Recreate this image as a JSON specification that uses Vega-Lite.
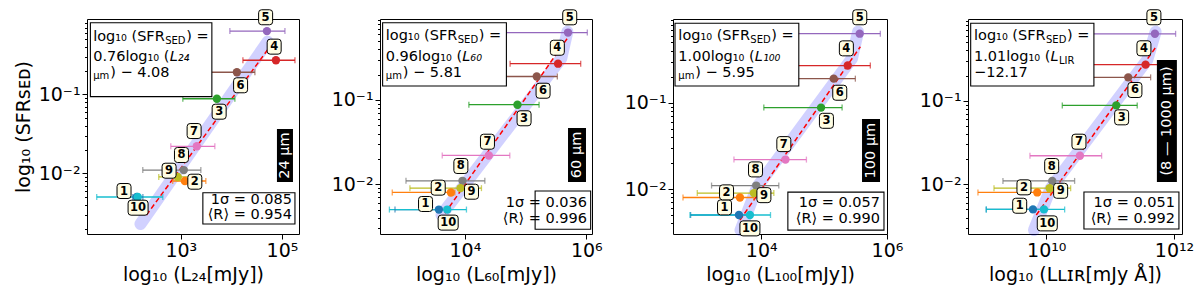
{
"$schema":"https://vega.github.io/schema/vega-lite/v6.json",
"autosize":{"type":"none"},
"padding":{"left":87,"top":19,"right":1113,"bottom":273},
"background":"white",
"config":{"font":"DejaVu Sans","view":{"stroke":"black","strokeWidth":1},
 "axis":{"grid":false,"domain":false,"tickColor":"black","labelColor":"black","titleColor":"black","labelFontSize":19,"titleFontSize":19,"titleFontWeight":"normal","labelPadding":2,"tickSize":5,"labelFont":"DejaVu Sans","titleFont":"DejaVu Sans","labelFlush":false,"labelOverlap":false,"labelBound":false},
 "axisX":{"titlePadding":5},"axisY":{"titlePadding":5},
 "text":{"font":"DejaVu Sans"}},
"datasets":{
 "one":[{"k":1}],
 "pts":[
  {"p":1,"id":1,"x":2.129,"xlo":2.05,"xhi":2.25,"y":-2.30,"tx":1.877,"ty":-2.224},
  {"p":1,"id":2,"x":3.08,"xlo":2.84,"xhi":3.495,"y":-2.097,"tx":3.277,"ty":-2.106},
  {"p":1,"id":3,"x":3.713,"xlo":3.04,"xhi":4.069,"y":-1.056,"tx":3.758,"ty":-1.22},
  {"p":1,"id":4,"x":4.881,"xlo":4.228,"xhi":5.257,"y":-0.569,"tx":4.846,"ty":-0.397},
  {"p":1,"id":5,"x":4.703,"xlo":3.97,"xhi":5.059,"y":-0.2,"tx":4.677,"ty":-0.025},
  {"p":1,"id":6,"x":4.109,"xlo":3.376,"xhi":4.465,"y":-0.721,"tx":4.182,"ty":-0.886},
  {"p":1,"id":7,"x":3.317,"xlo":2.802,"xhi":3.673,"y":-1.658,"tx":3.263,"ty":-1.465},
  {"p":1,"id":8,"x":3.059,"xlo":2.248,"xhi":3.396,"y":-1.959,"tx":3.013,"ty":-1.768},
  {"p":1,"id":9,"x":2.94,"xlo":2.564,"xhi":3.376,"y":-2.046,"tx":2.768,"ty":-1.967},
  {"p":1,"id":10,"x":2.149,"xlo":1.337,"xhi":2.644,"y":-2.30,"tx":2.155,"ty":-2.435},
  {"p":2,"id":1,"x":3.572,"xlo":2.849,"xhi":3.753,"y":-2.30,"tx":3.352,"ty":-2.234},
  {"p":2,"id":2,"x":3.77,"xlo":2.804,"xhi":3.836,"y":-2.097,"tx":3.561,"ty":-2.04},
  {"p":2,"id":3,"x":4.866,"xlo":4.066,"xhi":5.222,"y":-1.056,"tx":4.975,"ty":-1.217},
  {"p":2,"id":4,"x":5.535,"xlo":4.745,"xhi":5.908,"y":-0.569,"tx":5.523,"ty":-0.38},
  {"p":2,"id":5,"x":5.699,"xlo":4.684,"xhi":6.017,"y":-0.2,"tx":5.727,"ty":-0.019},
  {"p":2,"id":6,"x":5.184,"xlo":4.29,"xhi":5.523,"y":-0.721,"tx":5.288,"ty":-0.89},
  {"p":2,"id":7,"x":4.395,"xlo":3.627,"xhi":4.74,"y":-1.658,"tx":4.372,"ty":-1.495},
  {"p":2,"id":8,"x":3.961,"xlo":3.03,"xhi":4.329,"y":-1.959,"tx":3.934,"ty":-1.783},
  {"p":2,"id":9,"x":3.928,"xlo":3.095,"xhi":4.273,"y":-2.046,"tx":4.109,"ty":-2.088},
  {"p":2,"id":10,"x":3.709,"xlo":2.757,"xhi":4.026,"y":-2.30,"tx":3.725,"ty":-2.455},
  {"p":3,"id":1,"x":3.646,"xlo":2.878,"xhi":3.85,"y":-2.30,"tx":3.417,"ty":-2.212},
  {"p":3,"id":2,"x":3.662,"xlo":2.757,"xhi":3.884,"y":-2.097,"tx":3.449,"ty":-2.038},
  {"p":3,"id":3,"x":4.952,"xlo":4.042,"xhi":5.286,"y":-1.056,"tx":5.037,"ty":-1.209},
  {"p":3,"id":4,"x":5.376,"xlo":4.556,"xhi":5.735,"y":-0.569,"tx":5.354,"ty":-0.37},
  {"p":3,"id":5,"x":5.566,"xlo":4.4,"xhi":5.894,"y":-0.2,"tx":5.567,"ty":-0.01},
  {"p":3,"id":6,"x":5.153,"xlo":4.238,"xhi":5.497,"y":-0.721,"tx":5.249,"ty":-0.884},
  {"p":3,"id":7,"x":4.386,"xlo":3.567,"xhi":4.719,"y":-1.658,"tx":4.36,"ty":-1.479},
  {"p":3,"id":8,"x":3.921,"xlo":3.211,"xhi":4.28,"y":-1.959,"tx":3.91,"ty":-1.772},
  {"p":3,"id":9,"x":3.884,"xlo":2.984,"xhi":4.201,"y":-2.046,"tx":4.043,"ty":-2.07},
  {"p":3,"id":10,"x":3.821,"xlo":2.868,"xhi":4.148,"y":-2.30,"tx":3.821,"ty":-2.455},
  {"p":4,"id":1,"x":9.792,"xlo":9.061,"xhi":9.95,"y":-2.30,"tx":9.584,"ty":-2.256},
  {"p":4,"id":2,"x":9.859,"xlo":8.931,"xhi":10.069,"y":-2.097,"tx":9.651,"ty":-2.036},
  {"p":4,"id":3,"x":11.096,"xlo":10.251,"xhi":11.424,"y":-1.056,"tx":11.18,"ty":-1.199},
  {"p":4,"id":4,"x":11.555,"xlo":10.6,"xhi":11.9,"y":-0.569,"tx":11.529,"ty":-0.373},
  {"p":4,"id":5,"x":11.701,"xlo":10.6,"xhi":12.025,"y":-0.2,"tx":11.685,"ty":-0.002},
  {"p":4,"id":6,"x":11.283,"xlo":10.397,"xhi":11.634,"y":-0.721,"tx":11.388,"ty":-0.872},
  {"p":4,"id":7,"x":10.527,"xlo":9.745,"xhi":10.867,"y":-1.658,"tx":10.512,"ty":-1.49},
  {"p":4,"id":8,"x":10.094,"xlo":9.322,"xhi":10.444,"y":-1.959,"tx":10.085,"ty":-1.781},
  {"p":4,"id":9,"x":10.053,"xlo":9.182,"xhi":10.382,"y":-2.046,"tx":10.225,"ty":-2.077},
  {"p":4,"id":10,"x":9.964,"xlo":9.061,"xhi":10.288,"y":-2.30,"tx":10.016,"ty":-2.467}
 ],
 "band":[
  {"p":1,"x":2.202,"y":-2.642},{"p":1,"x":4.717,"y":-0.334},
  {"p":2,"x":3.615,"y":-2.364},{"p":2,"x":5.589,"y":-0.505},{"p":2,"x":5.688,"y":-0.19},
  {"p":3,"x":3.671,"y":-2.475},{"p":3,"x":3.937,"y":-1.973},{"p":3,"x":5.444,"y":-0.486},{"p":3,"x":5.54,"y":-0.177},
  {"p":4,"x":9.808,"y":-2.547},{"p":4,"x":10.069,"y":-2.048},{"p":4,"x":11.581,"y":-0.513},{"p":4,"x":11.712,"y":-0.175}
 ],
 "fit":[
  {"p":1,"x":2.321,"y":-2.528},{"p":1,"x":4.762,"y":-0.397},
  {"p":2,"x":3.671,"y":-2.344},{"p":2,"x":5.688,"y":-0.268},
  {"p":3,"x":3.662,"y":-2.359},{"p":3,"x":5.576,"y":-0.351},
  {"p":4,"x":9.844,"y":-2.367},{"p":4,"x":11.721,"y":-0.354}
 ]
},
"spacing":81,
"bounds":"flush",
"hconcat":[
{"width":212,"height":215,"layer":[
 {"data":{"name":"band"},"transform":[{"filter":"datum.p==1"}],"mark":{"type":"line","color":"#0000ff","opacity":0.18,"strokeWidth":12,"strokeCap":"round","strokeJoin":"round"},
  "encoding":{"x":{"field":"x","type":"quantitative","scale":{"domain":[1.145,5.337],"nice":false,"zero":false},"axis":{"values":[3,5],"tickCount":100,"labelOverlap":false,"labelExpr":"datum.value==3?'10³':'10⁵'","title":"log₁₀ (L₂₄[mJy])"}},
   "y":{"field":"y","type":"quantitative","scale":{"domain":[-2.768,-0.047],"nice":false,"zero":false},"axis":{"values":[-2.699,-2.523,-2.398,-2.301,-2.222,-2.155,-2.097,-2.046,-2,-1.699,-1.523,-1.398,-1.301,-1.222,-1.155,-1.097,-1.046,-1,-0.699,-0.523,-0.398,-0.301,-0.222,-0.155,-0.097],"tickCount":100,"labelOverlap":false,"labelExpr":"datum.value==-1?'10⁻¹':datum.value==-2?'10⁻²':''","labelFontSize":{"condition":{"test":"datum.value==-1||datum.value==-2","value":19},"value":0},"tickSize":{"condition":{"test":"datum.value==-1||datum.value==-2","value":5},"value":2.5},"title":"log₁₀ (SFRꜱᴇᴅ)"}}}},
 {"data":{"name":"fit"},"transform":[{"filter":"datum.p==1"}],"mark":{"type":"line","color":"red","strokeWidth":1.5,"strokeDash":[5,3]},"encoding":{"x":{"field":"x","type":"quantitative"},"y":{"field":"y","type":"quantitative"}}},
 {"data":{"name":"pts"},"transform":[{"filter":"datum.p==1"}],"mark":{"type":"rule","strokeWidth":1.3},"encoding":{"x":{"field":"xlo","type":"quantitative"},"x2":{"field":"xhi"},"y":{"field":"y","type":"quantitative"},"color":{"field":"id","type":"nominal","scale":{"domain":[1,2,3,4,5,6,7,8,9,10],"range":["#1f77b4","#ff7f0e","#2ca02c","#d62728","#9467bd","#8c564b","#e377c2","#7f7f7f","#bcbd22","#17becf"]},"legend":null}}},
 {"data":{"name":"pts"},"transform":[{"filter":"datum.p==1"}],"mark":{"type":"tick","orient":"vertical","size":6,"thickness":1.3},"encoding":{"x":{"field":"xlo","type":"quantitative"},"y":{"field":"y","type":"quantitative"},"color":{"field":"id","type":"nominal","scale":{"domain":[1,2,3,4,5,6,7,8,9,10],"range":["#1f77b4","#ff7f0e","#2ca02c","#d62728","#9467bd","#8c564b","#e377c2","#7f7f7f","#bcbd22","#17becf"]},"legend":null}}},
 {"data":{"name":"pts"},"transform":[{"filter":"datum.p==1"}],"mark":{"type":"tick","orient":"vertical","size":6,"thickness":1.3},"encoding":{"x":{"field":"xhi","type":"quantitative"},"y":{"field":"y","type":"quantitative"},"color":{"field":"id","type":"nominal","scale":{"domain":[1,2,3,4,5,6,7,8,9,10],"range":["#1f77b4","#ff7f0e","#2ca02c","#d62728","#9467bd","#8c564b","#e377c2","#7f7f7f","#bcbd22","#17becf"]},"legend":null}}},
 {"data":{"name":"pts"},"transform":[{"filter":"datum.p==1"}],"mark":{"type":"circle","size":70,"opacity":1},"encoding":{"x":{"field":"x","type":"quantitative"},"y":{"field":"y","type":"quantitative"},"color":{"field":"id","type":"nominal","scale":{"domain":[1,2,3,4,5,6,7,8,9,10],"range":["#1f77b4","#ff7f0e","#2ca02c","#d62728","#9467bd","#8c564b","#e377c2","#7f7f7f","#bcbd22","#17becf"]},"legend":null}}},
 {"data":{"name":"pts"},"transform":[{"filter":"datum.p==1&&datum.id<10"}],"mark":{"type":"point","shape":"M-0.4,-0.75L0.4,-0.75Q0.7,-0.75 0.7,-0.45L0.7,0.45Q0.7,0.75 0.4,0.75L-0.4,0.75Q-0.7,0.75 -0.7,0.45L-0.7,-0.45Q-0.7,-0.75 -0.4,-0.75Z","size":400,"filled":true,"fill":"#fffde3","stroke":"black","strokeWidth":1,"opacity":1},"encoding":{"x":{"field":"tx","type":"quantitative"},"y":{"field":"ty","type":"quantitative"}}},
 {"data":{"name":"pts"},"transform":[{"filter":"datum.p==1&&datum.id==10"}],"mark":{"type":"point","shape":"M-0.7,-0.75L0.7,-0.75Q1,-0.75 1,-0.45L1,0.45Q1,0.75 0.7,0.75L-0.7,0.75Q-1,0.75 -1,0.45L-1,-0.45Q-1,-0.75 -0.7,-0.75Z","size":400,"filled":true,"fill":"#fffde3","stroke":"black","strokeWidth":1,"opacity":1},"encoding":{"x":{"field":"tx","type":"quantitative"},"y":{"field":"ty","type":"quantitative"}}},
 {"data":{"name":"pts"},"transform":[{"filter":"datum.p==1"}],"mark":{"type":"text","fontSize":11.5,"fontWeight":"bold","color":"black","baseline":"middle","dy":0.5},"encoding":{"x":{"field":"tx","type":"quantitative"},"y":{"field":"ty","type":"quantitative"},"text":{"field":"id","type":"nominal"}}},
 {"data":{"name":"one"},"mark":{"type":"rect","fill":"white","stroke":"black","strokeWidth":1.1},"encoding":{"x":{"datum":1.212,"type":"quantitative"},"x2":{"datum":3.614},"y":{"datum":-0.094,"type":"quantitative"},"y2":{"datum":-1.03}}},
 {"data":{"name":"one"},"mark":{"type":"text","text":"log₁₀ (SFR","align":"left","baseline":"alphabetic","fontSize":14.5},"encoding":{"x":{"datum":1.267,"type":"quantitative"},"y":{"datum":-0.325,"type":"quantitative"}}},
 {"data":{"name":"one"},"mark":{"type":"text","text":"SED","align":"left","baseline":"alphabetic","fontSize":10,"dx":72,"dy":3},"encoding":{"x":{"datum":1.267,"type":"quantitative"},"y":{"datum":-0.325,"type":"quantitative"}}},
 {"data":{"name":"one"},"mark":{"type":"text","text":") =","align":"left","baseline":"alphabetic","fontSize":14.5,"dx":93},"encoding":{"x":{"datum":1.267,"type":"quantitative"},"y":{"datum":-0.325,"type":"quantitative"}}},
 {"data":{"name":"one"},"mark":{"type":"text","text":"0.76log₁₀ (","align":"left","baseline":"alphabetic","fontSize":14.5},"encoding":{"x":{"datum":1.267,"type":"quantitative"},"y":{"datum":-0.578,"type":"quantitative"}}},
 {"data":{"name":"one"},"mark":{"type":"text","text":"L₂₄","align":"left","baseline":"alphabetic","fontSize":14.5,"fontStyle":"italic","dx":76.5},"encoding":{"x":{"datum":1.267,"type":"quantitative"},"y":{"datum":-0.578,"type":"quantitative"}}},
 {"data":{"name":"one"},"mark":{"type":"text","text":"μm","align":"left","baseline":"alphabetic","fontSize":10,"dy":2},"encoding":{"x":{"datum":1.267,"type":"quantitative"},"y":{"datum":-0.785,"type":"quantitative"}}},
 {"data":{"name":"one"},"mark":{"type":"text","text":") − 4.08","align":"left","baseline":"alphabetic","fontSize":14.5,"dx":17},"encoding":{"x":{"datum":1.267,"type":"quantitative"},"y":{"datum":-0.785,"type":"quantitative"}}},
 {"data":{"name":"one"},"mark":{"type":"rect","fill":"white","stroke":"black","strokeWidth":1.1},"encoding":{"x":{"datum":3.436,"type":"quantitative"},"x2":{"datum":5.257},"y":{"datum":-2.246,"type":"quantitative"},"y2":{"datum":-2.642}}},
 {"data":{"name":"one"},"mark":{"type":"text","text":"1σ = 0.085","align":"right","baseline":"alphabetic","fontSize":14.5},"encoding":{"x":{"datum":5.198,"type":"quantitative"},"y":{"datum":-2.389,"type":"quantitative"}}},
 {"data":{"name":"one"},"mark":{"type":"text","text":"⟨R⟩ = 0.954","align":"right","baseline":"alphabetic","fontSize":14.5},"encoding":{"x":{"datum":5.198,"type":"quantitative"},"y":{"datum":-2.578,"type":"quantitative"}}},
 {"data":{"name":"one"},"mark":{"type":"rect","fill":"black"},"encoding":{"x":{"datum":4.901,"type":"quantitative"},"x2":{"datum":5.218},"y":{"datum":-1.439,"type":"quantitative"},"y2":{"datum":-2.11}}},
 {"data":{"name":"one"},"mark":{"type":"text","text":"24 μm","align":"center","baseline":"middle","fontSize":14.5,"angle":270,"color":"white"},"encoding":{"x":{"datum":5.059,"type":"quantitative"},"y":{"datum":-1.775,"type":"quantitative"}}}
]},
{"width":212,"height":215,"layer":[
 {"data":{"name":"band"},"transform":[{"filter":"datum.p==2"}],"mark":{"type":"line","color":"#0000ff","opacity":0.18,"strokeWidth":12,"strokeCap":"round","strokeJoin":"round"},
  "encoding":{"x":{"field":"x","type":"quantitative","scale":{"domain":[2.602,6.094],"nice":false,"zero":false},"axis":{"values":[4,6],"tickCount":100,"labelOverlap":false,"labelExpr":"datum.value==4?'10⁴':'10⁶'","title":"log₁₀ (L₆₀[mJy])"}},
   "y":{"field":"y","type":"quantitative","scale":{"domain":[-2.59,-0.039],"nice":false,"zero":false},"axis":{"values":[-2.523,-2.398,-2.301,-2.222,-2.155,-2.097,-2.046,-2,-1.699,-1.523,-1.398,-1.301,-1.222,-1.155,-1.097,-1.046,-1,-0.699,-0.523,-0.398,-0.301,-0.222,-0.155,-0.097,-0.046],"tickCount":100,"labelOverlap":false,"labelExpr":"datum.value==-1?'10⁻¹':datum.value==-2?'10⁻²':''","labelFontSize":{"condition":{"test":"datum.value==-1||datum.value==-2","value":19},"value":0},"tickSize":{"condition":{"test":"datum.value==-1||datum.value==-2","value":5},"value":2.5},"title":null}}}},
 {"data":{"name":"fit"},"transform":[{"filter":"datum.p==2"}],"mark":{"type":"line","color":"red","strokeWidth":1.5,"strokeDash":[5,3]},"encoding":{"x":{"field":"x","type":"quantitative"},"y":{"field":"y","type":"quantitative"}}},
 {"data":{"name":"pts"},"transform":[{"filter":"datum.p==2"}],"mark":{"type":"rule","strokeWidth":1.3},"encoding":{"x":{"field":"xlo","type":"quantitative"},"x2":{"field":"xhi"},"y":{"field":"y","type":"quantitative"},"color":{"field":"id","type":"nominal","scale":{"domain":[1,2,3,4,5,6,7,8,9,10],"range":["#1f77b4","#ff7f0e","#2ca02c","#d62728","#9467bd","#8c564b","#e377c2","#7f7f7f","#bcbd22","#17becf"]},"legend":null}}},
 {"data":{"name":"pts"},"transform":[{"filter":"datum.p==2"}],"mark":{"type":"tick","orient":"vertical","size":6,"thickness":1.3},"encoding":{"x":{"field":"xlo","type":"quantitative"},"y":{"field":"y","type":"quantitative"},"color":{"field":"id","type":"nominal","scale":{"domain":[1,2,3,4,5,6,7,8,9,10],"range":["#1f77b4","#ff7f0e","#2ca02c","#d62728","#9467bd","#8c564b","#e377c2","#7f7f7f","#bcbd22","#17becf"]},"legend":null}}},
 {"data":{"name":"pts"},"transform":[{"filter":"datum.p==2"}],"mark":{"type":"tick","orient":"vertical","size":6,"thickness":1.3},"encoding":{"x":{"field":"xhi","type":"quantitative"},"y":{"field":"y","type":"quantitative"},"color":{"field":"id","type":"nominal","scale":{"domain":[1,2,3,4,5,6,7,8,9,10],"range":["#1f77b4","#ff7f0e","#2ca02c","#d62728","#9467bd","#8c564b","#e377c2","#7f7f7f","#bcbd22","#17becf"]},"legend":null}}},
 {"data":{"name":"pts"},"transform":[{"filter":"datum.p==2"}],"mark":{"type":"circle","size":70,"opacity":1},"encoding":{"x":{"field":"x","type":"quantitative"},"y":{"field":"y","type":"quantitative"},"color":{"field":"id","type":"nominal","scale":{"domain":[1,2,3,4,5,6,7,8,9,10],"range":["#1f77b4","#ff7f0e","#2ca02c","#d62728","#9467bd","#8c564b","#e377c2","#7f7f7f","#bcbd22","#17becf"]},"legend":null}}},
 {"data":{"name":"pts"},"transform":[{"filter":"datum.p==2&&datum.id<10"}],"mark":{"type":"point","shape":"M-0.4,-0.75L0.4,-0.75Q0.7,-0.75 0.7,-0.45L0.7,0.45Q0.7,0.75 0.4,0.75L-0.4,0.75Q-0.7,0.75 -0.7,0.45L-0.7,-0.45Q-0.7,-0.75 -0.4,-0.75Z","size":400,"filled":true,"fill":"#fffde3","stroke":"black","strokeWidth":1,"opacity":1},"encoding":{"x":{"field":"tx","type":"quantitative"},"y":{"field":"ty","type":"quantitative"}}},
 {"data":{"name":"pts"},"transform":[{"filter":"datum.p==2&&datum.id==10"}],"mark":{"type":"point","shape":"M-0.7,-0.75L0.7,-0.75Q1,-0.75 1,-0.45L1,0.45Q1,0.75 0.7,0.75L-0.7,0.75Q-1,0.75 -1,0.45L-1,-0.45Q-1,-0.75 -0.7,-0.75Z","size":400,"filled":true,"fill":"#fffde3","stroke":"black","strokeWidth":1,"opacity":1},"encoding":{"x":{"field":"tx","type":"quantitative"},"y":{"field":"ty","type":"quantitative"}}},
 {"data":{"name":"pts"},"transform":[{"filter":"datum.p==2"}],"mark":{"type":"text","fontSize":11.5,"fontWeight":"bold","color":"black","baseline":"middle","dy":0.5},"encoding":{"x":{"field":"tx","type":"quantitative"},"y":{"field":"ty","type":"quantitative"},"text":{"field":"id","type":"nominal"}}},
 {"data":{"name":"one"},"mark":{"type":"rect","fill":"white","stroke":"black","strokeWidth":1.1},"encoding":{"x":{"datum":2.645,"type":"quantitative"},"x2":{"datum":4.684},"y":{"datum":-0.083,"type":"quantitative"},"y2":{"datum":-0.834}}},
 {"data":{"name":"one"},"mark":{"type":"text","text":"log₁₀ (SFR","align":"left","baseline":"alphabetic","fontSize":14.5},"encoding":{"x":{"datum":2.697,"type":"quantitative"},"y":{"datum":-0.288,"type":"quantitative"}}},
 {"data":{"name":"one"},"mark":{"type":"text","text":"SED","align":"left","baseline":"alphabetic","fontSize":10,"dx":72,"dy":3},"encoding":{"x":{"datum":2.697,"type":"quantitative"},"y":{"datum":-0.288,"type":"quantitative"}}},
 {"data":{"name":"one"},"mark":{"type":"text","text":") =","align":"left","baseline":"alphabetic","fontSize":14.5,"dx":93},"encoding":{"x":{"datum":2.697,"type":"quantitative"},"y":{"datum":-0.288,"type":"quantitative"}}},
 {"data":{"name":"one"},"mark":{"type":"text","text":"0.96log₁₀ (","align":"left","baseline":"alphabetic","fontSize":14.5},"encoding":{"x":{"datum":2.697,"type":"quantitative"},"y":{"datum":-0.537,"type":"quantitative"}}},
 {"data":{"name":"one"},"mark":{"type":"text","text":"L₆₀","align":"left","baseline":"alphabetic","fontSize":14.5,"fontStyle":"italic","dx":76.5},"encoding":{"x":{"datum":2.697,"type":"quantitative"},"y":{"datum":-0.537,"type":"quantitative"}}},
 {"data":{"name":"one"},"mark":{"type":"text","text":"μm","align":"left","baseline":"alphabetic","fontSize":10,"dy":2},"encoding":{"x":{"datum":2.697,"type":"quantitative"},"y":{"datum":-0.731,"type":"quantitative"}}},
 {"data":{"name":"one"},"mark":{"type":"text","text":") − 5.81","align":"left","baseline":"alphabetic","fontSize":14.5,"dx":17},"encoding":{"x":{"datum":2.697,"type":"quantitative"},"y":{"datum":-0.731,"type":"quantitative"}}},
 {"data":{"name":"one"},"mark":{"type":"rect","fill":"white","stroke":"black","strokeWidth":1.1},"encoding":{"x":{"datum":5.157,"type":"quantitative"},"x2":{"datum":6.072},"y":{"datum":-2.079,"type":"quantitative"},"y2":{"datum":-2.534}}},
 {"data":{"name":"one"},"mark":{"type":"text","text":"1σ = 0.036","align":"right","baseline":"alphabetic","fontSize":14.5},"encoding":{"x":{"datum":6.012,"type":"quantitative"},"y":{"datum":-2.269,"type":"quantitative"}}},
 {"data":{"name":"one"},"mark":{"type":"text","text":"⟨R⟩ = 0.996","align":"right","baseline":"alphabetic","fontSize":14.5},"encoding":{"x":{"datum":6.012,"type":"quantitative"},"y":{"datum":-2.459,"type":"quantitative"}}},
 {"data":{"name":"one"},"mark":{"type":"rect","fill":"black"},"encoding":{"x":{"datum":5.699,"type":"quantitative"},"x2":{"datum":5.995},"y":{"datum":-1.332,"type":"quantitative"},"y2":{"datum":-1.973}}},
 {"data":{"name":"one"},"mark":{"type":"text","text":"60 μm","align":"center","baseline":"middle","fontSize":14.5,"angle":270,"color":"white"},"encoding":{"x":{"datum":5.847,"type":"quantitative"},"y":{"datum":-1.652,"type":"quantitative"}}}
]},
{"width":214,"height":215,"layer":[
 {"data":{"name":"band"},"transform":[{"filter":"datum.p==3"}],"mark":{"type":"line","color":"#0000ff","opacity":0.18,"strokeWidth":12,"strokeCap":"round","strokeJoin":"round"},
  "encoding":{"x":{"field":"x","type":"quantitative","scale":{"domain":[2.598,6.0],"nice":false,"zero":false},"axis":{"values":[4,6],"tickCount":100,"labelOverlap":false,"labelExpr":"datum.value==4?'10⁴':'10⁶'","title":"log₁₀ (L₁₀₀[mJy])"}},
   "y":{"field":"y","type":"quantitative","scale":{"domain":[-2.52,-0.03],"nice":false,"zero":false},"axis":{"values":[-2.398,-2.301,-2.222,-2.155,-2.097,-2.046,-2,-1.699,-1.523,-1.398,-1.301,-1.222,-1.155,-1.097,-1.046,-1,-0.699,-0.523,-0.398,-0.301,-0.222,-0.155,-0.097,-0.046],"tickCount":100,"labelOverlap":false,"labelExpr":"datum.value==-1?'10⁻¹':datum.value==-2?'10⁻²':''","labelFontSize":{"condition":{"test":"datum.value==-1||datum.value==-2","value":19},"value":0},"tickSize":{"condition":{"test":"datum.value==-1||datum.value==-2","value":5},"value":2.5},"title":null}}}},
 {"data":{"name":"fit"},"transform":[{"filter":"datum.p==3"}],"mark":{"type":"line","color":"red","strokeWidth":1.5,"strokeDash":[5,3]},"encoding":{"x":{"field":"x","type":"quantitative"},"y":{"field":"y","type":"quantitative"}}},
 {"data":{"name":"pts"},"transform":[{"filter":"datum.p==3"}],"mark":{"type":"rule","strokeWidth":1.3},"encoding":{"x":{"field":"xlo","type":"quantitative"},"x2":{"field":"xhi"},"y":{"field":"y","type":"quantitative"},"color":{"field":"id","type":"nominal","scale":{"domain":[1,2,3,4,5,6,7,8,9,10],"range":["#1f77b4","#ff7f0e","#2ca02c","#d62728","#9467bd","#8c564b","#e377c2","#7f7f7f","#bcbd22","#17becf"]},"legend":null}}},
 {"data":{"name":"pts"},"transform":[{"filter":"datum.p==3"}],"mark":{"type":"tick","orient":"vertical","size":6,"thickness":1.3},"encoding":{"x":{"field":"xlo","type":"quantitative"},"y":{"field":"y","type":"quantitative"},"color":{"field":"id","type":"nominal","scale":{"domain":[1,2,3,4,5,6,7,8,9,10],"range":["#1f77b4","#ff7f0e","#2ca02c","#d62728","#9467bd","#8c564b","#e377c2","#7f7f7f","#bcbd22","#17becf"]},"legend":null}}},
 {"data":{"name":"pts"},"transform":[{"filter":"datum.p==3"}],"mark":{"type":"tick","orient":"vertical","size":6,"thickness":1.3},"encoding":{"x":{"field":"xhi","type":"quantitative"},"y":{"field":"y","type":"quantitative"},"color":{"field":"id","type":"nominal","scale":{"domain":[1,2,3,4,5,6,7,8,9,10],"range":["#1f77b4","#ff7f0e","#2ca02c","#d62728","#9467bd","#8c564b","#e377c2","#7f7f7f","#bcbd22","#17becf"]},"legend":null}}},
 {"data":{"name":"pts"},"transform":[{"filter":"datum.p==3"}],"mark":{"type":"circle","size":70,"opacity":1},"encoding":{"x":{"field":"x","type":"quantitative"},"y":{"field":"y","type":"quantitative"},"color":{"field":"id","type":"nominal","scale":{"domain":[1,2,3,4,5,6,7,8,9,10],"range":["#1f77b4","#ff7f0e","#2ca02c","#d62728","#9467bd","#8c564b","#e377c2","#7f7f7f","#bcbd22","#17becf"]},"legend":null}}},
 {"data":{"name":"pts"},"transform":[{"filter":"datum.p==3&&datum.id<10"}],"mark":{"type":"point","shape":"M-0.4,-0.75L0.4,-0.75Q0.7,-0.75 0.7,-0.45L0.7,0.45Q0.7,0.75 0.4,0.75L-0.4,0.75Q-0.7,0.75 -0.7,0.45L-0.7,-0.45Q-0.7,-0.75 -0.4,-0.75Z","size":400,"filled":true,"fill":"#fffde3","stroke":"black","strokeWidth":1,"opacity":1},"encoding":{"x":{"field":"tx","type":"quantitative"},"y":{"field":"ty","type":"quantitative"}}},
 {"data":{"name":"pts"},"transform":[{"filter":"datum.p==3&&datum.id==10"}],"mark":{"type":"point","shape":"M-0.7,-0.75L0.7,-0.75Q1,-0.75 1,-0.45L1,0.45Q1,0.75 0.7,0.75L-0.7,0.75Q-1,0.75 -1,0.45L-1,-0.45Q-1,-0.75 -0.7,-0.75Z","size":400,"filled":true,"fill":"#fffde3","stroke":"black","strokeWidth":1,"opacity":1},"encoding":{"x":{"field":"tx","type":"quantitative"},"y":{"field":"ty","type":"quantitative"}}},
 {"data":{"name":"pts"},"transform":[{"filter":"datum.p==3"}],"mark":{"type":"text","fontSize":11.5,"fontWeight":"bold","color":"black","baseline":"middle","dy":0.5},"encoding":{"x":{"field":"tx","type":"quantitative"},"y":{"field":"ty","type":"quantitative"},"text":{"field":"id","type":"nominal"}}},
 {"data":{"name":"one"},"mark":{"type":"rect","fill":"white","stroke":"black","strokeWidth":1.1},"encoding":{"x":{"datum":2.63,"type":"quantitative"},"x2":{"datum":4.598},"y":{"datum":-0.08,"type":"quantitative"},"y2":{"datum":-0.806}}},
 {"data":{"name":"one"},"mark":{"type":"text","text":"log₁₀ (SFR","align":"left","baseline":"alphabetic","fontSize":14.5},"encoding":{"x":{"datum":2.683,"type":"quantitative"},"y":{"datum":-0.273,"type":"quantitative"}}},
 {"data":{"name":"one"},"mark":{"type":"text","text":"SED","align":"left","baseline":"alphabetic","fontSize":10,"dx":72,"dy":3},"encoding":{"x":{"datum":2.683,"type":"quantitative"},"y":{"datum":-0.273,"type":"quantitative"}}},
 {"data":{"name":"one"},"mark":{"type":"text","text":") =","align":"left","baseline":"alphabetic","fontSize":14.5,"dx":93},"encoding":{"x":{"datum":2.683,"type":"quantitative"},"y":{"datum":-0.273,"type":"quantitative"}}},
 {"data":{"name":"one"},"mark":{"type":"text","text":"1.00log₁₀ (","align":"left","baseline":"alphabetic","fontSize":14.5},"encoding":{"x":{"datum":2.683,"type":"quantitative"},"y":{"datum":-0.517,"type":"quantitative"}}},
 {"data":{"name":"one"},"mark":{"type":"text","text":"L₁₀₀","align":"left","baseline":"alphabetic","fontSize":14.5,"fontStyle":"italic","dx":76.5},"encoding":{"x":{"datum":2.683,"type":"quantitative"},"y":{"datum":-0.517,"type":"quantitative"}}},
 {"data":{"name":"one"},"mark":{"type":"text","text":"μm","align":"left","baseline":"alphabetic","fontSize":10,"dy":2},"encoding":{"x":{"datum":2.683,"type":"quantitative"},"y":{"datum":-0.706,"type":"quantitative"}}},
 {"data":{"name":"one"},"mark":{"type":"text","text":") − 5.95","align":"left","baseline":"alphabetic","fontSize":14.5,"dx":17},"encoding":{"x":{"datum":2.683,"type":"quantitative"},"y":{"datum":-0.706,"type":"quantitative"}}},
 {"data":{"name":"one"},"mark":{"type":"rect","fill":"white","stroke":"black","strokeWidth":1.1},"encoding":{"x":{"datum":4.424,"type":"quantitative"},"x2":{"datum":5.952},"y":{"datum":-2.035,"type":"quantitative"},"y2":{"datum":-2.475}}},
 {"data":{"name":"one"},"mark":{"type":"text","text":"1σ = 0.057","align":"right","baseline":"alphabetic","fontSize":14.5},"encoding":{"x":{"datum":5.889,"type":"quantitative"},"y":{"datum":-2.209,"type":"quantitative"}}},
 {"data":{"name":"one"},"mark":{"type":"text","text":"⟨R⟩ = 0.990","align":"right","baseline":"alphabetic","fontSize":14.5},"encoding":{"x":{"datum":5.889,"type":"quantitative"},"y":{"datum":-2.394,"type":"quantitative"}}},
 {"data":{"name":"one"},"mark":{"type":"rect","fill":"black"},"encoding":{"x":{"datum":5.603,"type":"quantitative"},"x2":{"datum":5.889},"y":{"datum":-1.189,"type":"quantitative"},"y2":{"datum":-1.919}}},
 {"data":{"name":"one"},"mark":{"type":"text","text":"100 μm","align":"center","baseline":"middle","fontSize":14.5,"angle":270,"color":"white"},"encoding":{"x":{"datum":5.746,"type":"quantitative"},"y":{"datum":-1.554,"type":"quantitative"}}}
]},
{"width":214,"height":215,"layer":[
 {"data":{"name":"band"},"transform":[{"filter":"datum.p==4"}],"mark":{"type":"line","color":"#0000ff","opacity":0.18,"strokeWidth":12,"strokeCap":"round","strokeJoin":"round"},
  "encoding":{"x":{"field":"x","type":"quantitative","scale":{"domain":[8.775,12.125],"nice":false,"zero":false},"axis":{"values":[10,12],"tickCount":100,"labelOverlap":false,"labelExpr":"datum.value==10?'10¹⁰':'10¹²'","title":"log₁₀ (Lʟɪʀ[mJy Å])"}},
   "y":{"field":"y","type":"quantitative","scale":{"domain":[-2.594,-0.023],"nice":false,"zero":false},"axis":{"values":[-2.523,-2.398,-2.301,-2.222,-2.155,-2.097,-2.046,-2,-1.699,-1.523,-1.398,-1.301,-1.222,-1.155,-1.097,-1.046,-1,-0.699,-0.523,-0.398,-0.301,-0.222,-0.155,-0.097,-0.046],"tickCount":100,"labelOverlap":false,"labelExpr":"datum.value==-1?'10⁻¹':datum.value==-2?'10⁻²':''","labelFontSize":{"condition":{"test":"datum.value==-1||datum.value==-2","value":19},"value":0},"tickSize":{"condition":{"test":"datum.value==-1||datum.value==-2","value":5},"value":2.5},"title":null}}}},
 {"data":{"name":"fit"},"transform":[{"filter":"datum.p==4"}],"mark":{"type":"line","color":"red","strokeWidth":1.5,"strokeDash":[5,3]},"encoding":{"x":{"field":"x","type":"quantitative"},"y":{"field":"y","type":"quantitative"}}},
 {"data":{"name":"pts"},"transform":[{"filter":"datum.p==4"}],"mark":{"type":"rule","strokeWidth":1.3},"encoding":{"x":{"field":"xlo","type":"quantitative"},"x2":{"field":"xhi"},"y":{"field":"y","type":"quantitative"},"color":{"field":"id","type":"nominal","scale":{"domain":[1,2,3,4,5,6,7,8,9,10],"range":["#1f77b4","#ff7f0e","#2ca02c","#d62728","#9467bd","#8c564b","#e377c2","#7f7f7f","#bcbd22","#17becf"]},"legend":null}}},
 {"data":{"name":"pts"},"transform":[{"filter":"datum.p==4"}],"mark":{"type":"tick","orient":"vertical","size":6,"thickness":1.3},"encoding":{"x":{"field":"xlo","type":"quantitative"},"y":{"field":"y","type":"quantitative"},"color":{"field":"id","type":"nominal","scale":{"domain":[1,2,3,4,5,6,7,8,9,10],"range":["#1f77b4","#ff7f0e","#2ca02c","#d62728","#9467bd","#8c564b","#e377c2","#7f7f7f","#bcbd22","#17becf"]},"legend":null}}},
 {"data":{"name":"pts"},"transform":[{"filter":"datum.p==4"}],"mark":{"type":"tick","orient":"vertical","size":6,"thickness":1.3},"encoding":{"x":{"field":"xhi","type":"quantitative"},"y":{"field":"y","type":"quantitative"},"color":{"field":"id","type":"nominal","scale":{"domain":[1,2,3,4,5,6,7,8,9,10],"range":["#1f77b4","#ff7f0e","#2ca02c","#d62728","#9467bd","#8c564b","#e377c2","#7f7f7f","#bcbd22","#17becf"]},"legend":null}}},
 {"data":{"name":"pts"},"transform":[{"filter":"datum.p==4"}],"mark":{"type":"circle","size":70,"opacity":1},"encoding":{"x":{"field":"x","type":"quantitative"},"y":{"field":"y","type":"quantitative"},"color":{"field":"id","type":"nominal","scale":{"domain":[1,2,3,4,5,6,7,8,9,10],"range":["#1f77b4","#ff7f0e","#2ca02c","#d62728","#9467bd","#8c564b","#e377c2","#7f7f7f","#bcbd22","#17becf"]},"legend":null}}},
 {"data":{"name":"pts"},"transform":[{"filter":"datum.p==4&&datum.id<10"}],"mark":{"type":"point","shape":"M-0.4,-0.75L0.4,-0.75Q0.7,-0.75 0.7,-0.45L0.7,0.45Q0.7,0.75 0.4,0.75L-0.4,0.75Q-0.7,0.75 -0.7,0.45L-0.7,-0.45Q-0.7,-0.75 -0.4,-0.75Z","size":400,"filled":true,"fill":"#fffde3","stroke":"black","strokeWidth":1,"opacity":1},"encoding":{"x":{"field":"tx","type":"quantitative"},"y":{"field":"ty","type":"quantitative"}}},
 {"data":{"name":"pts"},"transform":[{"filter":"datum.p==4&&datum.id==10"}],"mark":{"type":"point","shape":"M-0.7,-0.75L0.7,-0.75Q1,-0.75 1,-0.45L1,0.45Q1,0.75 0.7,0.75L-0.7,0.75Q-1,0.75 -1,0.45L-1,-0.45Q-1,-0.75 -0.7,-0.75Z","size":400,"filled":true,"fill":"#fffde3","stroke":"black","strokeWidth":1,"opacity":1},"encoding":{"x":{"field":"tx","type":"quantitative"},"y":{"field":"ty","type":"quantitative"}}},
 {"data":{"name":"pts"},"transform":[{"filter":"datum.p==4"}],"mark":{"type":"text","fontSize":11.5,"fontWeight":"bold","color":"black","baseline":"middle","dy":0.5},"encoding":{"x":{"field":"tx","type":"quantitative"},"y":{"field":"ty","type":"quantitative"},"text":{"field":"id","type":"nominal"}}},
 {"data":{"name":"one"},"mark":{"type":"rect","fill":"white","stroke":"black","strokeWidth":1.1},"encoding":{"x":{"datum":8.817,"type":"quantitative"},"x2":{"datum":10.746},"y":{"datum":-0.074,"type":"quantitative"},"y2":{"datum":-0.824}}},
 {"data":{"name":"one"},"mark":{"type":"text","text":"log₁₀ (SFR","align":"left","baseline":"alphabetic","fontSize":14.5},"encoding":{"x":{"datum":8.869,"type":"quantitative"},"y":{"datum":-0.274,"type":"quantitative"}}},
 {"data":{"name":"one"},"mark":{"type":"text","text":"SED","align":"left","baseline":"alphabetic","fontSize":10,"dx":72,"dy":3},"encoding":{"x":{"datum":8.869,"type":"quantitative"},"y":{"datum":-0.274,"type":"quantitative"}}},
 {"data":{"name":"one"},"mark":{"type":"text","text":") =","align":"left","baseline":"alphabetic","fontSize":14.5,"dx":93},"encoding":{"x":{"datum":8.869,"type":"quantitative"},"y":{"datum":-0.274,"type":"quantitative"}}},
 {"data":{"name":"one"},"mark":{"type":"text","text":"1.01log₁₀ (","align":"left","baseline":"alphabetic","fontSize":14.5},"encoding":{"x":{"datum":8.869,"type":"quantitative"},"y":{"datum":-0.525,"type":"quantitative"}}},
 {"data":{"name":"one"},"mark":{"type":"text","text":"L","align":"left","baseline":"alphabetic","fontSize":14.5,"fontStyle":"italic","dx":76.5},"encoding":{"x":{"datum":8.869,"type":"quantitative"},"y":{"datum":-0.525,"type":"quantitative"}}},
 {"data":{"name":"one"},"mark":{"type":"text","text":"LIR","align":"left","baseline":"alphabetic","fontSize":10,"dx":85,"dy":3},"encoding":{"x":{"datum":8.869,"type":"quantitative"},"y":{"datum":-0.525,"type":"quantitative"}}},
 {"data":{"name":"one"},"mark":{"type":"text","text":"−12.17","align":"left","baseline":"alphabetic","fontSize":14.5},"encoding":{"x":{"datum":8.869,"type":"quantitative"},"y":{"datum":-0.72,"type":"quantitative"}}},
 {"data":{"name":"one"},"mark":{"type":"rect","fill":"white","stroke":"black","strokeWidth":1.1},"encoding":{"x":{"datum":10.59,"type":"quantitative"},"x2":{"datum":12.077},"y":{"datum":-2.092,"type":"quantitative"},"y2":{"datum":-2.535}}},
 {"data":{"name":"one"},"mark":{"type":"text","text":"1σ = 0.051","align":"right","baseline":"alphabetic","fontSize":14.5},"encoding":{"x":{"datum":12.014,"type":"quantitative"},"y":{"datum":-2.272,"type":"quantitative"}}},
 {"data":{"name":"one"},"mark":{"type":"text","text":"⟨R⟩ = 0.992","align":"right","baseline":"alphabetic","fontSize":14.5},"encoding":{"x":{"datum":12.014,"type":"quantitative"},"y":{"datum":-2.463,"type":"quantitative"}}},
 {"data":{"name":"one"},"mark":{"type":"rect","fill":"black"},"encoding":{"x":{"datum":11.732,"type":"quantitative"},"x2":{"datum":12.045},"y":{"datum":-0.513,"type":"quantitative"},"y2":{"datum":-1.972}}},
 {"data":{"name":"one"},"mark":{"type":"text","text":"(8 — 1000 μm)","align":"center","baseline":"middle","fontSize":14.5,"angle":270,"color":"white"},"encoding":{"x":{"datum":11.889,"type":"quantitative"},"y":{"datum":-1.243,"type":"quantitative"}}}
]}
]
}
